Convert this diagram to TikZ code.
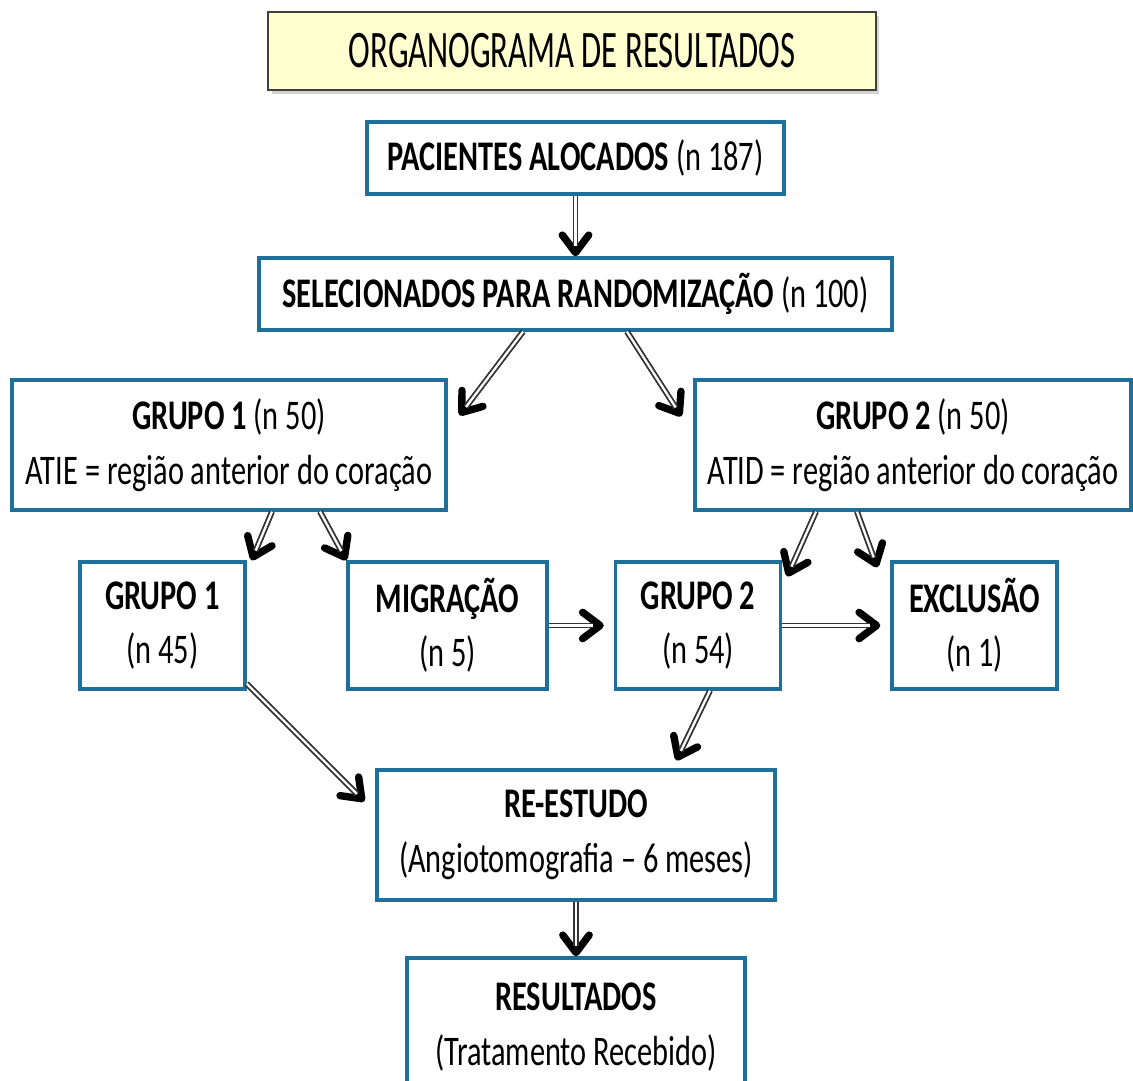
\documentclass[tikz,border=0pt]{standalone}
\usepackage{fontspec}
\setmainfont{Carlito}[FakeStretch=0.72]
\newfontfamily\titlefont{Carlito}[FakeStretch=0.62]
\usepackage{tikz}
\usetikzlibrary{calc, arrows.meta, positioning, shadows}
\definecolor{boxblue}{RGB}{30,112,155}
\definecolor{titlefill}{RGB}{255,255,208}

\begin{document}
\begin{tikzpicture}[
        x=0.02cm, y=-0.02cm,
        box/.style = {draw=boxblue, rectangle, line width=1.9pt, align=center, inner sep=0pt,
                      font=\fontsize{24}{31}\selectfont, fill=white},
        twoline/.style = {box, execute at begin node={\rule{0pt}{26pt}}},
        titlebox/.style = {draw=black!75, fill=titlefill, line width=1pt, minimum width=12.16cm, minimum height=1.56cm,
                      font=\titlefont\fontsize{30}{34}\selectfont, drop shadow={opacity=0.35, shadow xshift=2pt, shadow yshift=-2pt}},
        smallbox/.style = {twoline, minimum width=3.3cm, minimum height=2.54cm},
        dblarrow/.style = {draw=black, line width=3pt, -{Straight Barb[length=10pt, width=15pt, line width=4.2pt, round]},
                      postaction={draw=black!80, line width=1pt, double=white, double distance=1.3pt, shorten >=6pt, -}}
    ]

        \useasboundingbox (0,0) rectangle (1133,1081);

        \node (title) [titlebox] at (572,51) {ORGANOGRAMA DE RESULTADOS};
        \node (pac) [box, minimum width=8.34cm, minimum height=1.44cm] at (575.5,158) {\textbf{PACIENTES ALOCADOS} (n 187)};
        \node (sel) [box, minimum width=12.66cm, minimum height=1.44cm] at (575.5,294) {\textbf{SELECIONADOS PARA RANDOMIZAÇÃO} (n 100)};
        \node (g1) [twoline, minimum width=8.68cm, minimum height=2.6cm] at (229,445) {\textbf{GRUPO 1} (n 50)\\ATIE = região anterior do coração};
        \node (g2) [twoline, minimum width=8.72cm, minimum height=2.6cm] at (913,445) {\textbf{GRUPO 2} (n 50)\\ATID = região anterior do coração};
        \node (g1s) [smallbox] at (162.5,625.5) {\textbf{GRUPO 1}\\(n 45)};
        \node (mig) [smallbox, minimum width=3.98cm] at (447.5,625.5) {\textbf{MIGRAÇÃO}\\(n 5)};
        \node (g2s) [smallbox] at (698,625.5) {\textbf{GRUPO 2}\\(n 54)};
        \node (exc) [smallbox] at (974.5,625.5) {\textbf{EXCLUSÃO}\\(n 1)};
        \node (reest) [twoline, minimum width=7.96cm, minimum height=2.6cm] at (576,835) {\textbf{RE-ESTUDO}\\(Angiotomografia -- 6 meses)};
        \node (res) [twoline, minimum width=6.76cm, minimum height=2.76cm] at (576,1027) {\textbf{RESULTADOS}\\(Tratamento Recebido)};

        \draw [dblarrow] (pac.south) -- (sel.north);
        \draw [dblarrow] ([xshift=-1.05cm]sel.south) -- ([xshift=0.24cm, yshift=-0.74cm]g1.north east);
        \draw [dblarrow] ([xshift=1.03cm]sel.south) -- ([xshift=-0.24cm, yshift=-0.76cm]g2.north west);
        \draw [dblarrow] ([xshift=0.86cm]g1.south) -- ([xshift=0.1cm]g1s.north east);
        \draw [dblarrow] ([xshift=1.82cm]g1.south) -- (mig.north west);
        \draw [dblarrow] ([xshift=-1.94cm]g2.south) -- ([xshift=0.1cm, yshift=-0.32cm]g2s.north east);
        \draw [dblarrow] ([xshift=-1.12cm]g2.south) -- ([xshift=-0.26cm, yshift=-0.14cm]exc.north west);
        \draw [dblarrow] (mig.east) -- ([xshift=-0.2cm]g2s.west);
        \draw [dblarrow] (g2s.east) -- ([xshift=-0.2cm]exc.west);
        \draw [dblarrow] ([yshift=0.14cm]g1s.south east) -- ([xshift=-0.22cm, yshift=-0.66cm]reest.north west);
        \draw [dblarrow] ([xshift=0.24cm]g2s.south) -- ([xshift=6.02cm, yshift=0.16cm]reest.north west);
        \draw [dblarrow] (reest.south) -- (res.north);

    \end{tikzpicture}
\end{document}
